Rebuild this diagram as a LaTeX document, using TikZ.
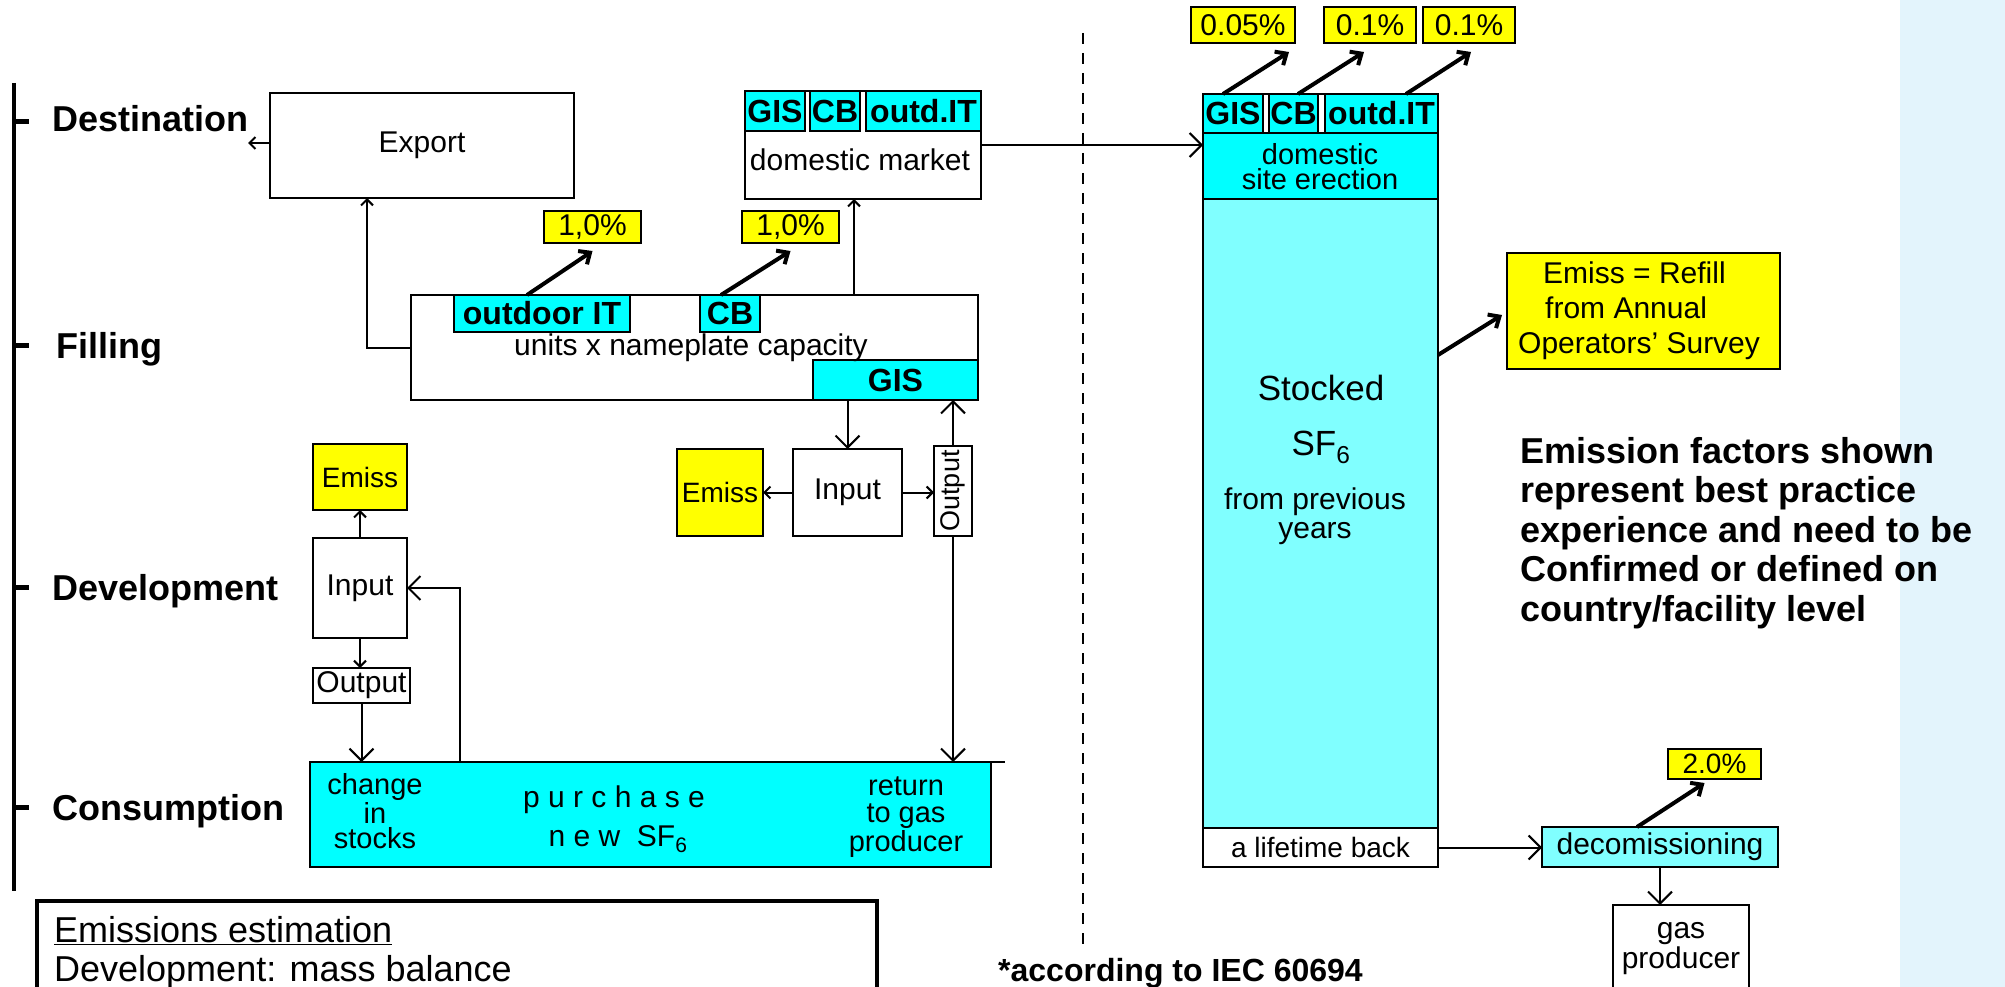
\documentclass[tikz,border=0pt]{standalone}
\usepackage{fontspec}
\setmainfont{Liberation Sans}
\usetikzlibrary{arrows.meta}
\definecolor{cy}{HTML}{00FFFF}
\definecolor{lcy}{HTML}{80FFFF}
\definecolor{yl}{HTML}{FFFF00}
\definecolor{panel}{HTML}{E3F4FC}
\newcommand\fLbl{\fontsize{30}{30}\selectfont}
\newcommand\fHdr{\fontsize{36}{36}\selectfont\bfseries}
\newcommand\fCell{\fontsize{32}{32}\selectfont\bfseries}
\newcommand\fPct{\fontsize{30}{30}\selectfont}
\newcommand\fNote{\fontsize{36}{39.5}\selectfont\bfseries}
\newcommand\fEm{\fontsize{36}{36}\selectfont}
\begin{document}
\begin{tikzpicture}[x=1pt,y=-1pt,
  bx/.style={draw, line width=2pt, inner sep=0pt, outer sep=0pt, anchor=north west, align=center, font=\fLbl},
  cybx/.style={bx, fill=cy},
  lcybx/.style={bx, fill=lcy},
  ybx/.style={bx, fill=yl},
  cellbx/.style={bx, fill=cy, font=\fCell},
  pctbx/.style={bx, fill=yl, font=\fPct},
  arrs/.style={line width=2pt, -{Straight Barb[length=6pt,width=12pt]}},
  arrb/.style={line width=2pt, -{Straight Barb[length=12pt,width=24pt]}},
  emarr/.style={line width=4pt, -{Straight Barb[length=9pt,width=16pt]}},
  hdr/.style={font=\fHdr, anchor=base west, inner sep=0pt},
  txt/.style={font=\fLbl, inner sep=0pt, align=center}]
\useasboundingbox (0,0) rectangle (2005,987);
\clip (0,0) rectangle (2005,987);
\fill[panel] (1900,0) rectangle (2005,987);

% left scale bar
\draw[line width=4.5pt] (14,83) -- (14,891);
\foreach \yy in {122,345,587,807} \draw[line width=5pt] (14,\yy) -- (29,\yy);
\node[hdr] (ldest) at (52,132) {Destination};
\node[hdr] (lfill) at (56,358) {Filling};
\node[hdr] (ldev) at (52,600) {Development};
\node[hdr] (lcons) at (52,820) {Consumption};

% destination
\node[bx, minimum width=304pt, minimum height=105pt] (export) at (270,93) {Export};
\node[bx, minimum width=236pt, minimum height=108pt] (dm) at (745,91) {};
\node[cellbx, minimum width=60pt, minimum height=40pt] (dmgis) at (745,91) {GIS};
\node[cellbx, minimum width=50pt, minimum height=40pt] (dmcb) at (810,91) {CB};
\node[cellbx, minimum width=115pt, minimum height=40pt] (dmit) at (866,91) {outd.IT};
\node[txt] (dmt) at (860,160) {domestic market};

% filling
\node[pctbx, minimum width=97pt, minimum height=32pt] (p1) at (544,211) {1,0\%};
\node[pctbx, minimum width=97pt, minimum height=32pt] (p2) at (742,211) {1,0\%};
\node[bx, minimum width=567pt, minimum height=105pt] (fillbox) at (411,295) {};
\node[cellbx, minimum width=176pt, minimum height=37pt] (oit) at (454,295) {outdoor IT};
\node[cellbx, minimum width=60pt, minimum height=37pt] (fcb) at (700,295) {CB};
\node[cellbx, minimum width=165pt, minimum height=40pt] (fgis) at (813,360) {GIS};
\node[txt] (units) at (691,348) {units x nameplate capacity};
\node[ybx, minimum width=86pt, minimum height=87pt, font=\fontsize{28}{28}\selectfont] (femiss) at (677,449) {Emiss};
\node[bx, minimum width=109pt, minimum height=87pt] (finp) at (793,449) {Input};
\node[bx, minimum width=38pt, minimum height=90pt, font=\fontsize{27}{27}\selectfont] (fout) at (934,446) {\rotatebox{90}{Output}};

% development
\node[ybx, minimum width=94pt, minimum height=66pt, font=\fontsize{28}{28}\selectfont] (demiss) at (313,444) {Emiss};
\node[bx, minimum width=94pt, minimum height=100pt] (dinp) at (313,538) {Input};
\node[bx, minimum width=97pt, minimum height=35pt] (dout) at (313,668) {Output};

% consumption
\node[cybx, minimum width=681pt, minimum height=105pt] (consb) at (310,762) {};
\draw[line width=2pt] (consb.north east) -- ++(14,0);
\node[txt, anchor=base, font=\fontsize{29}{25}\selectfont] (cst) at (375,848) {change\\in\\stocks};
\node[txt, anchor=base] (pur) at (614,807) {p u r c h a s e};
\node[txt, anchor=base] (nsf) at (618,846) {n e w\ \ SF\textsubscript{6}};
\node[txt, anchor=base, font=\fontsize{29}{27}\selectfont] (ret) at (906,851) {return\\to gas\\producer};

% emissions estimation
\node[bx, line width=3.5pt, minimum width=840pt, minimum height=130pt] (emb) at (37,901) {};
\node[font=\fEm, anchor=base west, inner sep=0pt] (emt1) at (54,942) {\underline{Emissions estimation}};
\node[font=\fEm, anchor=base west, inner sep=0pt] (emt2) at (54,981) {Development: mass balance};

% divider
\coordinate (dtop) at (1083,33);
\coordinate (dbot) at (1083,952);
\draw[line width=2pt, dash pattern=on 11pt off 9pt] (dtop) -- (dbot);
\node[font=\fontsize{32}{32}\selectfont\bfseries, anchor=base west, inner sep=0pt] (acc) at (998,981) {*according to IEC 60694};

% right column
\node[pctbx, minimum width=104pt, minimum height=36pt] (p3) at (1191,7) {0.05\%};
\node[pctbx, minimum width=92pt, minimum height=36pt] (p4) at (1324,7) {0.1\%};
\node[pctbx, minimum width=92pt, minimum height=36pt] (p5) at (1423,7) {0.1\%};
\node[cybx, minimum width=235pt, minimum height=66pt] (se) at (1203,133) {};
\node[lcybx, minimum width=235pt, minimum height=629pt] (stk) at (1203,199) {};
\node[bx, minimum width=235pt, minimum height=39pt, font=\fontsize{28}{28}\selectfont] (life) at (1203,828) {a lifetime back};
\node[bx, fill=white, minimum width=235pt, minimum height=39pt] (sehead) at (1203,94) {};
\node[cellbx, minimum width=60pt, minimum height=39pt] (segis) at (1203,94) {GIS};
\node[cellbx, minimum width=49pt, minimum height=39pt] (secb) at (1269,94) {CB};
\node[cellbx, minimum width=113pt, minimum height=39pt] (seit) at (1325,94) {outd.IT};
\node[txt, anchor=base, font=\fontsize{29}{25}\selectfont] (set) at (1320,190) {domestic\\site erection};
\node[txt, anchor=base, font=\fontsize{35}{35}\selectfont] (stkt) at (1321,400) {Stocked};
\node[txt, anchor=base, font=\fontsize{35}{35}\selectfont] (sf) at (1321,455) {SF\textsubscript{6}};
\node[txt, anchor=base, font=\fontsize{30}{29}\selectfont] (prev) at (1315,538) {from previous\\years};

\node[ybx, minimum width=273pt, minimum height=116pt] (survey) at (1507,253) {};
\node[txt, align=left, anchor=base west, font=\fontsize{30}{35}\selectfont] (survt) at (1518,353) {\hspace*{25pt}Emiss = Refill\\\hspace*{27pt}from Annual\\Operators' Survey};
\node[font=\fNote, align=left, anchor=base west, inner sep=0pt] (note) at (1520,621) {Emission factors shown\\represent best practice\\experience and need to be\\Confirmed or defined on\\country/facility level};

\node[pctbx, minimum width=93pt, minimum height=30pt, font=\fontsize{28}{28}\selectfont] (p6) at (1668,749) {2.0\%};
\node[lcybx, minimum width=236pt, minimum height=40pt] (decom) at (1542,827) {decomissioning};
\node[bx, minimum width=136pt, minimum height=100pt] (gp) at (1613,905) {};
\node[txt, anchor=base, font=\fontsize{30}{30}\selectfont] (gpt) at (1681,968) {gas\\producer};

% connectors
\coordinate (expw) at (248,143);
\draw[arrs] (export.west |- expw) -- (expw);
\draw[arrs] (fillbox.west) -| ([xshift=-55pt]export.south);
\draw[arrs] ([xshift=-9pt]dm.south |- fillbox.north) -- ([xshift=-9pt]dm.south);
\draw[arrb] (finp.north |- fgis.south) -- (finp.north);
\draw[arrs] (finp.west) -- (femiss.east);
\draw[arrs] (finp.east) -- (finp.east -| fout.west);
\draw[arrb] (fout.north) -- (fout.north |- fgis.south);
\draw[arrb] (fout.south) -- (fout.south |- consb.north);
\draw[arrs] (dinp.north) -- (demiss.south);
\draw[arrs] (dinp.south) -- (dinp.south |- dout.north);
\draw[arrb] (dout.south) -- (dout.south |- consb.north);
\draw[arrb] ([xshift=-190.5pt]consb.north) |- (dinp.east);
\draw[arrb] (dm.east) -- (dm.east -| se.west);
\draw[arrb] (life.east) -- (life.east -| decom.west);
\draw[arrb] (decom.south) -- (decom.south |- gp.north);

\draw[emarr] ([xshift=-15pt]oit.north) -- ([yshift=-8pt]p1.south);
\draw[emarr] ([xshift=-9pt]fcb.north) -- ([yshift=-8pt]p2.south);
\draw[emarr] ([xshift=-10pt]segis.north) -- ([xshift=46pt,yshift=-9pt]p3.south);
\draw[emarr] ([xshift=4.5pt]secb.north) -- ([xshift=-6pt,yshift=-9pt]p4.south);
\draw[emarr] ([xshift=24.5pt]seit.north) -- ([xshift=2pt,yshift=-9pt]p5.south);
\draw[emarr] ([yshift=-156pt]stk.north east) -- ([xshift=-5pt,yshift=-4pt]survey.west);
\draw[emarr] ([xshift=-23pt]decom.north) -- ([xshift=-10pt,yshift=-4pt]p6.south);
\end{tikzpicture}
\end{document}
